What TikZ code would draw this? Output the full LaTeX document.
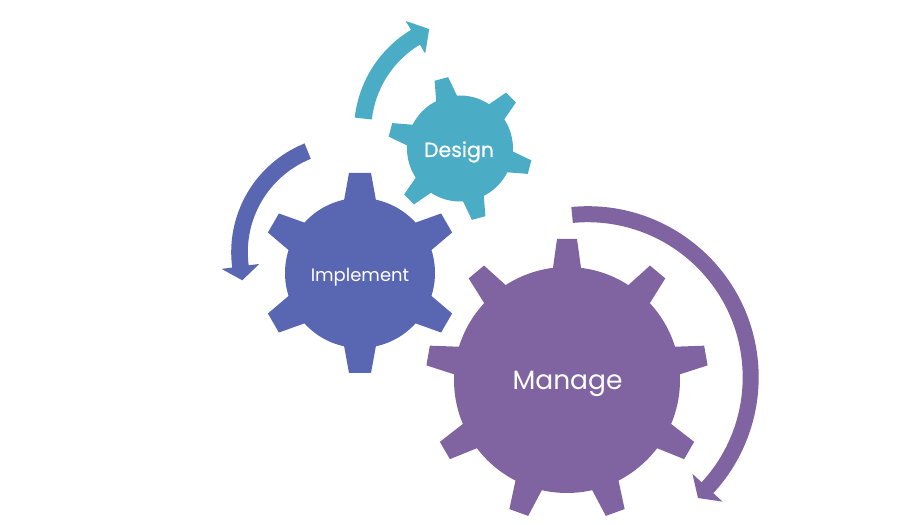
\documentclass[tikz,border=0pt]{standalone}
\usepackage{fontspec}
\setmainfont{Poppins}
\newfontfamily\medfont{Poppins}[FakeBold=0.6]
\definecolor{cDesign}{HTML}{4BACC6}
\definecolor{cImpl}{HTML}{5966B2}
\definecolor{cManage}{HTML}{8064A2}
% #1 centre, #2 colour, #3 teeth, #4 first tooth angle, #5 body radius, #6 tip radius, #7 base half width, #8 tip half width
\newcommand\mygear[8]{%
  \fill[#2] (#1) circle[radius=#5];
  \pgfmathsetmacro\gstep{360/#3}%
  \pgfmathsetmacro\gin{#5-8}%
  \foreach \k in {1,...,#3}{%
    \pgfmathsetmacro\ga{#4+(\k-1)*\gstep}%
    \fill[#2,shift={(#1)},rotate=\ga] (\gin,-#7) -- (#6,-#8) -- (#6,#8) -- (\gin,#7) -- cycle;
  }%
}
% #1 centre, #2 colour, #3 radius, #4 band half width, #5 tail angle, #6 head angle, #7 head half width, #8 tip length
\newcommand\myarrow[8]{%
  \pgfmathsetmacro\tipdir{#6+90*sign(#6-#5)}%
  \pgfmathsetmacro\ro{#3+#4}%
  \pgfmathsetmacro\ri{#3-#4}%
  \pgfmathsetmacro\rho{#3+#7}%
  \pgfmathsetmacro\rhi{#3-#7}%
  \pgfmathsetmacro\tx{#3*cos(#6)+#8*cos(\tipdir)}%
  \pgfmathsetmacro\ty{#3*sin(#6)+#8*sin(\tipdir)}%
  \fill[#2,shift={(#1)}] (#5:\ro) arc[start angle=#5, end angle=#6, radius=\ro]
    -- (#6:\rho) -- (\tx,\ty) -- (#6:\rhi) -- (#6:\ri)
    arc[start angle=#6, end angle=#5, radius=\ri] -- cycle;
}
\tikzset{gearlabel/.style={text=white, inner sep=0pt, anchor=base}}
\begin{document}
\begin{tikzpicture}[x=1pt,y=1pt]
\useasboundingbox (0,0) rectangle (900,525);
% arrows
\myarrow{471.6,394.3}{cDesign}{109}{8.6}{173.6}{121}{19}{16}
\myarrow{348.5,272.8}{cImpl}{109}{8.3}{112}{187.5}{19}{14}
\myarrow{587.7,147.8}{cManage}{163}{8}{95.5}{-42.7}{20.5}{14}
% gears
\mygear{460,376.5}{cDesign}{6}{105}{53}{72}{12}{7}
\mygear{360,252}{cImpl}{6}{90}{75}{100}{17}{11}
\mygear{567,145}{cManage}{9}{90}{113}{141}{15}{10}
% labels
\node[gearlabel, font=\medfont\fontsize{20.5}{24}\selectfont] (design) at (459,368) {Design};
\node[gearlabel, font=\fontsize{18}{22}\selectfont] (implement) at (360,243) {Implement};
\node[gearlabel, font=\fontsize{26.5}{32}\selectfont] (manage) at (567.5,135) {Manage};
\end{tikzpicture}
\end{document}
